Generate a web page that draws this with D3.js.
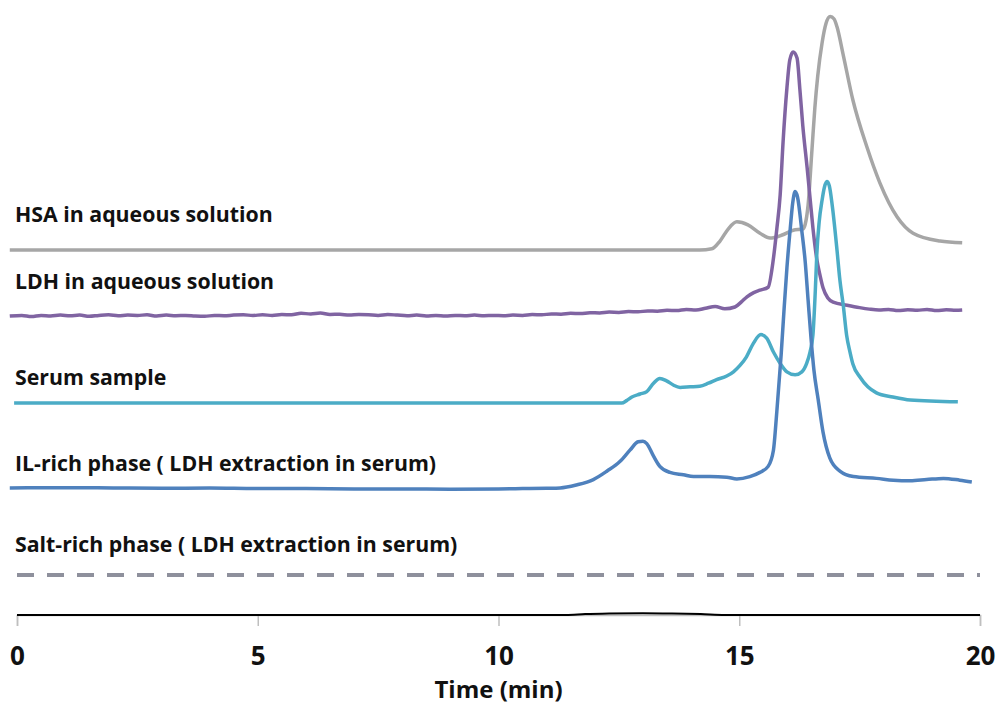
<!DOCTYPE html>
<html><head><meta charset="utf-8">
<script src="https://cdn.jsdelivr.net/npm/d3@7"></script>
<style>html,body{margin:0;padding:0;background:#fff;} svg{display:block;}</style>
</head><body><svg id="c" width="1000" height="711"></svg>
<script>
// ---------- DATA ----------
const seriesNames = ["HSA in aqueous solution", "LDH in aqueous solution", "Serum sample",
  "IL-rich phase ( LDH extraction in serum)", "Salt-rich phase ( LDH extraction in serum)", "Blank"];
const xTicks = [0, 5, 10, 15, 20];
const xLabel = "Time (min)";
// vertical offset of each trace (signal units)
const traceOffsets = [60.83, 49.83, 35.33, 21.17, 6.67, 0];

// [time (min), signal above baseline]
const hsaData = [[-0.15,0],[5,0],[10,0],[14.18,0],[14.43,0.2],[14.6,1.5],[14.77,3.5],[14.95,4.7],[15.18,4.2],
  [15.43,2.8],[15.64,2.0],[15.89,2.5],[16.12,3.3],[16.32,3.5],[16.37,4.3],[16.43,7.5],[16.51,16.7],[16.57,23.7],
  [16.63,29.0],[16.72,34.5],[16.8,37.7],[16.89,38.9],[16.97,38.5],[17.03,37.2],[17.16,32.5],[17.36,25.0],
  [17.65,17.2],[17.92,11.2],[18.28,5.5],[18.61,2.8],[19.17,1.5],[19.63,1.2]];

const ldhData = [[-0.15,0.0],[0.1,0.1],[0.3,-0.1],[0.5,0.1],[0.7,0.0],[0.9,0.15],[1.1,0.05],[1.3,0.15],[1.5,-0.05],
  [1.7,0.1],[1.9,0.2],[2.1,0.05],[2.3,0.15],[2.5,0.1],[2.7,0.2],[2.9,0.0],[3.1,0.15],[3.3,0.05],[3.5,0.1],[3.7,0.0],
  [3.9,-0.05],[4.1,0.1],[4.3,0.05],[4.5,0.15],[4.7,0.2],[4.9,0.1],[5.1,0.2],[5.3,0.1],[5.5,0.25],[5.7,0.2],
  [5.9,0.45],[6.1,0.35],[6.3,0.5],[6.5,0.25],[6.7,0.3],[6.9,0.15],[7.1,0.25],[7.3,0.2],[7.5,0.1],[7.7,0.25],
  [7.9,0.15],[8.1,0.05],[8.3,0.15],[8.5,0.0],[8.7,0.1],[8.9,0.0],[9.1,0.1],[9.3,0.05],[9.5,0.15],[9.7,0.05],
  [9.9,0.1],[10.1,0.05],[10.3,0.15],[10.5,0.1],[10.7,0.25],[10.9,0.2],[11.1,0.35],[11.3,0.3],[11.5,0.45],
  [11.7,0.4],[11.9,0.55],[12.1,0.5],[12.3,0.65],[12.5,0.6],[12.7,0.75],[12.9,0.7],[13.1,0.85],[13.3,0.8],
  [13.5,0.95],[13.7,0.9],[13.9,1.1],[14.1,1.0],[14.3,1.3],[14.5,1.6],[14.7,1.2],[14.91,1.5],[15.05,2.4],
  [15.16,3.2],[15.3,3.9],[15.43,4.3],[15.6,4.8],[15.7,9.0],[15.78,14.5],[15.85,20.2],[15.91,29.0],[15.99,38.0],
  [16.05,42.7],[16.12,44.0],[16.2,43.0],[16.26,37.7],[16.32,31.7],[16.41,24.7],[16.47,19.7],[16.53,14.7],
  [16.61,9.5],[16.68,6.7],[16.74,4.7],[16.84,3.0],[16.95,2.3],[17.24,1.8],[17.5,1.4],[17.7,1.15],[17.9,1.0],
  [18.1,1.1],[18.3,0.9],[18.5,1.05],[18.7,0.95],[18.9,1.1],[19.1,0.9],[19.3,1.05],[19.5,0.95],[19.63,1.0]];

const serumData = [[-0.06,0],[5,0],[10,0],[12.56,0],[12.66,0.4],[12.77,1.0],[12.94,1.5],[13.08,1.9],[13.22,3.3],
  [13.35,4.1],[13.49,3.7],[13.63,3.0],[13.77,2.6],[13.98,2.7],[14.18,2.8],[14.36,3.3],[14.53,3.9],[14.74,4.5],
  [14.88,5.2],[15.02,6.3],[15.15,7.7],[15.29,9.9],[15.45,11.4],[15.57,10.8],[15.71,8.5],[15.85,6.6],[15.99,5.2],
  [16.16,4.7],[16.3,5.2],[16.4,6.6],[16.47,8.5],[16.53,11.3],[16.58,18.8],[16.61,24.7],[16.66,30.2],[16.72,33.8],
  [16.77,36.0],[16.82,36.9],[16.87,36.2],[16.93,33.0],[17.03,25.5],[17.09,20.5],[17.16,16.3],[17.23,11.3],
  [17.3,8.5],[17.36,6.5],[17.51,4.3],[17.67,2.7],[17.85,1.7],[18.19,1.0],[18.55,0.5],[19.54,0.2]];

const ilData = [[-0.15,0.0],[1,0.05],[2,0.0],[3,-0.05],[4,0.0],[5,-0.1],[6,-0.1],[7,-0.15],[8,-0.15],[9,-0.2],
  [10,-0.15],[10.5,-0.1],[11,-0.05],[11.28,0.0],[11.62,0.5],[11.97,1.4],[12.25,2.8],[12.52,4.4],[12.73,6.3],
  [12.9,7.7],[13.0,7.8],[13.08,7.4],[13.22,5.3],[13.35,3.6],[13.56,2.6],[13.84,2.2],[14.05,1.9],[14.39,1.9],
  [14.74,1.8],[14.95,1.5],[15.22,1.9],[15.43,2.6],[15.6,3.6],[15.71,6.3],[15.78,12.7],[15.87,22.2],[15.93,29.7],
  [15.99,36.7],[16.06,43.3],[16.11,47.5],[16.16,49.4],[16.21,48.5],[16.3,42.8],[16.37,37.7],[16.43,31.3],
  [16.49,25.0],[16.55,19.7],[16.64,14.7],[16.74,9.3],[16.88,5.0],[17.09,2.8],[17.37,1.9],[17.85,1.6],[18.2,1.3],
  [18.55,1.2],[18.89,1.4],[19.24,1.6],[19.58,1.3],[19.83,1.0]];

const saltData = [[0,0],[5,0],[10,0],[15,0],[20,0]];

const blankData = [[0,0],[11.4,0],[11.8,0.15],[12.3,0.25],[13,0.3],[13.6,0.25],[14.2,0.15],[14.7,0],[20,0]];

// ---------- STYLE ----------
const colors = ["#a6a6a6", "#8064a2", "#4bacc6", "#4f81bd", "#8e909c", "#000000"];
const widths = [3.5, 3.5, 3.5, 3.5, 4, 2];
const dashes = [null, null, null, null, "17,13", null];
const labelGap = [28, 27, 18, 17, 23, null];

const allData = [hsaData, ldhData, serumData, ilData, saltData, blankData];

const svg = d3.select("#c");
const x = d3.scaleLinear().domain([0, 20]).range([17, 980]);
const y = d3.scaleLinear().domain([0, 100]).range([615, 15]);

// axis
const axis = d3.axisBottom(x).tickValues(xTicks).tickSize(11).tickPadding(21).tickFormat(d3.format("d"));
const gAxis = svg.append("g").attr("transform", `translate(0,${y(0)})`).call(axis);
gAxis.select(".domain").attr("stroke", "#bfbfbf").attr("stroke-width", 1.5);
gAxis.selectAll(".tick line").attr("stroke", "#bfbfbf").attr("stroke-width", 1.5);
gAxis.selectAll(".tick text").attr("fill", "#111")
  .style("font-family", "'Open Sans', sans-serif").style("font-weight", 700).style("font-size", "26px");

svg.append("text").attr("x", x(10)).attr("y", 698).attr("text-anchor", "middle")
  .style("font-family", "'Open Sans', sans-serif").style("font-weight", 700).style("font-size", "24px")
  .attr("fill", "#111").text(xLabel);

// traces
const order = [5, 4, 0, 1, 2, 3];
order.forEach(i => {
  const off = traceOffsets[i];
  const line = d3.line().x(d => x(d[0])).y(d => y(d[1] + off)).curve(d3.curveMonotoneX);
  svg.append("path").datum(allData[i]).attr("d", line)
    .attr("fill", "none").attr("stroke", colors[i]).attr("stroke-width", widths[i])
    .attr("stroke-linejoin", "round")
    .attr("stroke-dasharray", dashes[i]);
});

// labels
seriesNames.forEach((name, i) => {
  if (labelGap[i] == null) return;
  svg.append("text").attr("x", 15).attr("y", y(traceOffsets[i]) - labelGap[i])
    .style("font-family", "'Open Sans', sans-serif").style("font-weight", 700).style("font-size", "21.3px")
    .attr("fill", "#111").text(name);
});
</script></body></html>
